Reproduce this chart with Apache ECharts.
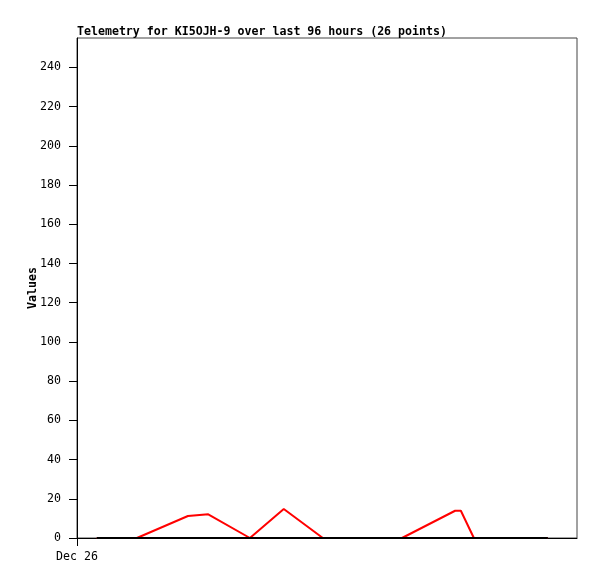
<!DOCTYPE html>
<html><head><meta charset="utf-8">
<script src="https://cdn.jsdelivr.net/npm/echarts@6/dist/echarts.min.js"></script>
<style>html,body{margin:0;padding:0;background:#fff}#c{width:597px;height:579px}</style>
</head><body><div id="c"></div>
<script>
// hours since Dec 26 00:00
const hours = [3.8, 11.5, 21.3, 25.2, 33.2, 39.7, 47.2, 54.8, 62.4, 72.6, 73.7, 76.2, 83.3, 90.4];
const redValues = [0, 0, 11.2, 12.1, 0, 14.8, 0, 0, 0, 13.9, 13.9, 0, 0, 0];
const blackValues = [0, 0, 0, 0, 0, 0, 0, 0, 0, 0, 0, 0, 0, 0];
const yTicks = [0, 20, 40, 60, 80, 100, 120, 140, 160, 180, 200, 220, 240];
const xTickLabels = ['Dec 26'];

const font = '"DejaVu Sans Mono", monospace';
const chart = echarts.init(document.getElementById('c'), null, {renderer: 'canvas'});
chart.setOption({
  animation: false,
  backgroundColor: '#fff',
  title: {
    text: 'Telemetry for KI5OJH-9 over last 96 hours (26 points)',
    left: 72, top: 21,
    textStyle: {fontFamily: font, fontSize: 11.6, fontWeight: 'bold', color: '#000'}
  },
  grid: {left: 77, top: 38, right: 20, bottom: 41, show: true, borderColor: '#444', borderWidth: 1, backgroundColor: '#fff'},
  xAxis: {
    type: 'value', min: 0, max: 96,
    axisLine: {show: true, lineStyle: {color: '#000', width: 1}},
    axisTick: {show: true, length: 8, customValues: [0], lineStyle: {color: '#000'}},
    axisLabel: {customValues: [0], formatter: () => xTickLabels[0], margin: 13,
      fontFamily: font, fontSize: 11.6, color: '#000'},
    splitLine: {show: false}
  },
  yAxis: {
    type: 'value', min: 0, max: 255,
    name: 'Values', nameLocation: 'middle', nameGap: 38, nameRotate: 90, nameMoveOverlap: false,
    nameTextStyle: {fontFamily: font, fontSize: 11.6, fontWeight: 'bold', color: '#000'},
    axisLine: {show: true, lineStyle: {color: '#000', width: 1}},
    axisTick: {show: true, length: 8, customValues: yTicks, lineStyle: {color: '#000'}},
    axisLabel: {customValues: yTicks, margin: 16, fontFamily: font, fontSize: 11.6, color: '#000'},
    splitLine: {show: false}
  },
  series: [
    {type: 'line', data: hours.map((h, i) => [h, redValues[i]]), symbol: 'none',
      lineStyle: {color: '#ff0000', width: 2}, z: 2},
    {type: 'line', data: hours.map((h, i) => [h, blackValues[i]]), symbol: 'none',
      lineStyle: {color: '#000', width: 2}, z: 3}
  ]
});
</script></body></html>
